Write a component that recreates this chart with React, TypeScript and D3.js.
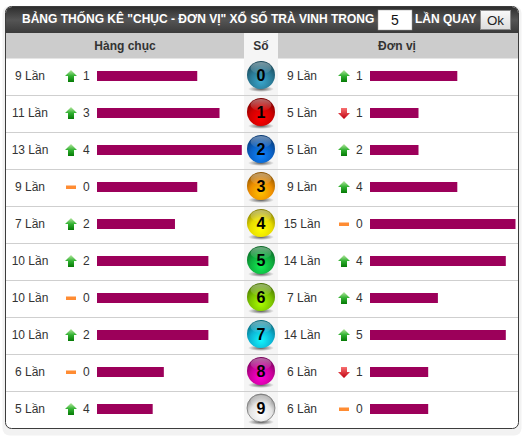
import React from "react";
import * as d3 from "d3";

const digits = ["0","1","2","3","4","5","6","7","8","9"];
const tensCounts = [9,11,13,9,7,10,10,10,6,5];
const tensDelta = [1,3,4,0,2,2,0,2,0,4];
const tensDir = ["up","up","up","flat","up","up","flat","up","flat","up"];
const unitCounts = [9,5,5,9,15,14,7,14,6,6];
const unitDelta = [1,1,2,4,0,4,4,5,1,0];
const unitDir = ["up","down","up","up","flat","up","up","up","down","flat"];
const ballColors = ["#2a7a96","#d00000","#0a60c4","#ee8e00","#e8dc00","#0eae3e","#7cc400","#0cb4d4","#cc009c","#e4e4e4"];
const titleLeft = 'BẢNG THỐNG KÊ "CHỤC - ĐƠN VỊ" XỔ SỐ TRÀ VINH TRONG';
const titleRight = "LẦN QUAY";
const inputValue = "5";
const okLabel = "Ok";
const colLeft = "Hàng chục";
const colMid = "Số";
const colRight = "Đơn vị";
const unit = "Lần";

const font = "Arial, 'Liberation Sans', sans-serif";
const rowY = d3.scaleBand<number>().domain(d3.range(10)).range([58, 428]);
const xTens = d3.scaleLinear().domain([0, 13]).range([0, 144.8]);
const xUnits = d3.scaleLinear().domain([0, 15]).range([0, 145.5]);

function Icon({ dir, x, y }: { dir: string; x: number; y: number }) {
  if (dir === "flat") return <rect x={x - 5} y={y - 1.5} width={10} height={3.5} fill="#ff8c33" />;
  if (dir === "up") {
    return (
      <path
        d={`M${x},${y - 6}L${x + 6},${y}L${x + 3},${y}L${x + 3},${y + 6}L${x - 3},${y + 6}L${x - 3},${y}L${x - 6},${y}Z`}
        fill="url(#upG)"
      />
    );
  }
  return (
    <path
      d={`M${x},${y + 6}L${x + 6},${y}L${x + 3},${y}L${x + 3},${y - 5}L${x - 3},${y - 5}L${x - 3},${y}L${x - 6},${y}Z`}
      fill="url(#downG)"
    />
  );
}

function Side({ counts, delta, dir, labelX, iconX, valX, barX, scale }: any) {
  return (
    <g>
      {counts.map((c: number, i: number) => {
        const cy = rowY(i)! + 17;
        return (
          <g key={i}>
            <text x={labelX} y={cy + 1} dy="0.35em" textAnchor="middle" fontSize={12} fill="#333">{`${c} ${unit}`}</text>
            <Icon dir={dir[i]} x={iconX} y={cy + 1} />
            <text x={valX} y={cy + 1} dy="0.35em" fontSize={12} fill="#333">{delta[i]}</text>
            <rect x={barX} y={rowY(i)! + 13} width={scale(c)} height={10} fill="#9c005a" />
          </g>
        );
      })}
    </g>
  );
}

export default function App() {
  return (
    <svg width={528} height={442} style={{ position: "absolute", left: 0, top: 0, fontFamily: font }}>
      <defs>
        <linearGradient id="head" x1="0" y1="0" x2="0" y2="1">
          <stop offset="0" stopColor="#2e2e2e" />
          <stop offset="0.5" stopColor="#555" />
          <stop offset="1" stopColor="#3a3a3a" />
        </linearGradient>
        <linearGradient id="upG" x1="0" y1="0" x2="0" y2="1">
          <stop offset="0" stopColor="#b5e8a0" />
          <stop offset="0.5" stopColor="#30b030" />
          <stop offset="1" stopColor="#067a06" />
        </linearGradient>
        <linearGradient id="downG" x1="0" y1="0" x2="0" y2="1">
          <stop offset="0" stopColor="#f87070" />
          <stop offset="1" stopColor="#c00010" />
        </linearGradient>
        <linearGradient id="okG" x1="0" y1="0" x2="0" y2="1">
          <stop offset="0" stopColor="#fafafa" />
          <stop offset="1" stopColor="#dcdcdc" />
        </linearGradient>
        <radialGradient id="shadow">
          <stop offset="0" stopColor="#222" stopOpacity="0.75" />
          <stop offset="1" stopColor="#222" stopOpacity="0" />
        </radialGradient>
        <linearGradient id="gloss" x1="0" y1="0" x2="0" y2="1">
          <stop offset="0" stopColor="#fff" stopOpacity="0.42" />
          <stop offset="1" stopColor="#fff" stopOpacity="0.03" />
        </linearGradient>
        {ballColors.map((c, i) => (
          <radialGradient key={i} id={`ball${i}`} cx="0.5" cy="0.72" r="0.72">
            <stop offset="0" stopColor={d3.color(c)!.brighter(0.9).formatHex()} />
            <stop offset="0.55" stopColor={c} />
            <stop offset="1" stopColor={d3.color(c)!.darker(1.6).formatHex()} />
          </radialGradient>
        ))}
      </defs>

      <rect x={2.5} y={6} width={519} height={429.5} rx={7} fill="#f2f2f2" />
      <rect x={5.5} y={6.5} width={513} height={422} rx={6} fill="#fff" stroke="#3c3c3c" strokeWidth={1} />
      <path d="M6,33L6,13Q6,7 12,7L512,7Q518,7 518,13L518,33Z" fill="url(#head)" />
      <rect x={6} y={33} width={512} height={25.5} fill="#cccccc" />
      <rect x={244} y={33} width={34} height={395} fill="#f5f5f5" />

      {d3.range(1, 10).map((i) => (
        <line key={i} x1={6} x2={518} y1={rowY(i)! + 0.5} y2={rowY(i)! + 0.5} stroke="#cfcfcf" strokeWidth={1} />
      ))}

      <text x={22} y={23} fontSize={12} fontWeight="bold" fill="#fff">{titleLeft}</text>
      <rect x={378} y={10} width={34} height={20} fill="#fff" stroke="#999" strokeWidth={0.5} />
      <text x={395} y={20.5} dy="0.35em" textAnchor="middle" fontSize={14} fill="#111">{inputValue}</text>
      <text x={415} y={23} fontSize={12} fontWeight="bold" fill="#fff">{titleRight}</text>
      <rect x={480.5} y={10.5} width={30} height={19} fill="url(#okG)" stroke="#8a8a8a" />
      <text x={495.5} y={20.5} dy="0.35em" textAnchor="middle" fontSize={13.3} fill="#222">{okLabel}</text>

      <text x={125} y={46} dy="0.35em" textAnchor="middle" fontSize={12} fontWeight="bold" fill="#333">{colLeft}</text>
      <text x={261} y={46} dy="0.35em" textAnchor="middle" fontSize={12} fontWeight="bold" fill="#333">{colMid}</text>
      <text x={397} y={46} dy="0.35em" textAnchor="middle" fontSize={12} fontWeight="bold" fill="#333">{colRight}</text>

      <Side counts={tensCounts} delta={tensDelta} dir={tensDir} labelX={30} iconX={71} valX={83} barX={97} scale={xTens} />
      <Side counts={unitCounts} delta={unitDelta} dir={unitDir} labelX={302} iconX={344} valX={356} barX={370} scale={xUnits} />

      {digits.map((d, i) => {
        const cy = rowY(i)! + 17;
        return (
          <g key={d}>
            <ellipse cx={261} cy={cy + 14} rx={13} ry={3} fill="url(#shadow)" />
            <circle cx={261} cy={cy} r={14} fill={`url(#ball${i})`} stroke={i === 9 ? "#777" : "none"} strokeWidth={0.8} />
            <ellipse cx={261} cy={cy - 7} rx={10.5} ry={6} fill="url(#gloss)" />
            <text x={261} y={cy + 0.5} dy="0.35em" textAnchor="middle" fontSize={16} fontWeight="bold" fill="#000">{d}</text>
          </g>
        );
      })}
    </svg>
  );
}
